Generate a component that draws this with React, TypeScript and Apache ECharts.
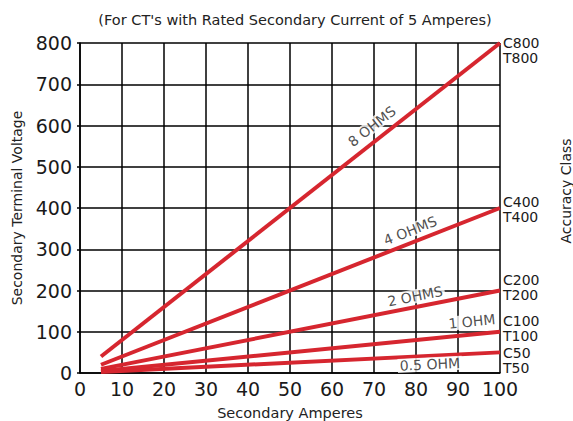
import React, { useEffect, useRef } from "react";
import * as echarts from "echarts";

const burdenNames = ["8 OHMS", "4 OHMS", "2 OHMS", "1 OHM", "0.5 OHM"];
const startAmps = [5, 5, 5, 5, 5];
const endAmps = [100, 100, 100, 100, 100];
const startVolts = [40, 20, 10, 5, 2.5];
const endVolts = [800, 400, 200, 100, 50];
const classLabels = ["C800\nT800", "C400\nT400", "C200\nT200", "C100\nT100", "C50\nT50"];
const classLabelOffsetY = [7, 1, -3, -3, 8];
const nameLabelX = [69.5, 78.6, 79.8, 93.3, 83.3];
const nameLabelY = [598, 345, 186, 125, 21];
const xTicks = [0, 10, 20, 30, 40, 50, 60, 70, 80, 90, 100];
const yTicks = [0, 100, 200, 300, 400, 500, 600, 700, 800];

const RED = "#d6262f";
const FONT = "DejaVu Sans, Arial, sans-serif";

export default function App() {
  const ref = useRef<HTMLDivElement>(null);
  useEffect(() => {
    document.body.style.margin = "0";
    if (!ref.current) return;
    const chart = echarts.init(ref.current, null, { renderer: "svg" });
    const grid = { left: 80, right: 73, top: 43, bottom: 48, outerBoundsMode: "none", containLabel: false };
    const plotW = 573 - grid.left - grid.right;
    const plotH = 421 - grid.top - grid.bottom;
    const xMax = xTicks[xTicks.length - 1];
    const yMax = yTicks[yTicks.length - 1];
    const angleOf = (i: number) => {
      const dx = ((endAmps[i] - startAmps[i]) / xMax) * plotW;
      const dy = ((endVolts[i] - startVolts[i]) / yMax) * plotH;
      return (Math.atan2(dy, dx) * 180) / Math.PI;
    };

    const lineSeries = burdenNames.map((n, i) => ({
      type: "line",
      name: n,
      data: [
        [startAmps[i], startVolts[i]],
        [endAmps[i], endVolts[i]],
      ],
      symbol: "none",
      lineStyle: { color: RED, width: 4 },
      z: 3,
      endLabel: {
        show: true,
        formatter: classLabels[i],
        color: "#1a1a1a",
        fontFamily: FONT,
        fontSize: 14,
        lineHeight: 15,
        distance: 3,
        offset: [0, classLabelOffsetY[i]],
      },
    }));

    const labelSeries = burdenNames.map((n, i) => ({
      type: "scatter",
      data: [[nameLabelX[i], nameLabelY[i]]],
      symbolSize: 0,
      z: 4,
      silent: true,
      label: {
        show: true,
        position: "inside",
        formatter: n,
        rotate: angleOf(i),
        color: "#222",
        fontFamily: FONT,
        fontSize: 14,
        backgroundColor: "#fff",
        padding: [0, 2],
      },
    }));

    chart.setOption({
      animation: false,
      backgroundColor: "#fff",
      title: {
        text: "(For CT's with Rated Secondary Current of 5 Amperes)",
        left: 290,
        textAlign: "center",
        top: 7,
        textStyle: { fontFamily: FONT, fontSize: 14.5, fontWeight: "normal", color: "#222" },
      },
      grid,
      xAxis: {
        type: "value",
        min: 0,
        max: xMax,
        interval: 10,
        name: "Secondary Amperes",
        nameLocation: "middle",
        nameGap: 32,
        nameTextStyle: { fontFamily: FONT, fontSize: 14.5, color: "#222" },
        axisLine: { show: true, lineStyle: { color: "#000", width: 1.5 } },
        axisTick: { show: false },
        axisLabel: { fontFamily: FONT, fontSize: 19, color: "#1a1a1a", margin: 6 },
        splitLine: { show: true, lineStyle: { color: "#000", width: 1.5 } },
      },
      yAxis: [
        {
          type: "value",
          min: 0,
          max: yMax,
          interval: 100,
          name: "Secondary Terminal Voltage",
          nameLocation: "middle",
          nameGap: 56,
          nameTextStyle: { fontFamily: FONT, fontSize: 14, color: "#222" },
          axisLine: { show: true, lineStyle: { color: "#000", width: 1.5 } },
          axisTick: { show: true, length: 3, lineStyle: { color: "#000", width: 1.5 } },
          axisLabel: { fontFamily: FONT, fontSize: 19, color: "#1a1a1a", margin: 8 },
          splitLine: { show: true, lineStyle: { color: "#000", width: 1.5 } },
        },
      ],
      graphic: [
        {
          type: "text",
          x: 566,
          y: 191,
          rotation: Math.PI / 2,
          style: {
            text: "Accuracy Class",
            fontFamily: FONT,
            fontSize: 14,
            fill: "#222",
            align: "center",
            verticalAlign: "middle",
          },
        },
      ],
      series: [...lineSeries, ...labelSeries],
    });
    return () => chart.dispose();
  }, []);
  return <div ref={ref} style={{ width: 573, height: 421 }} />;
}
